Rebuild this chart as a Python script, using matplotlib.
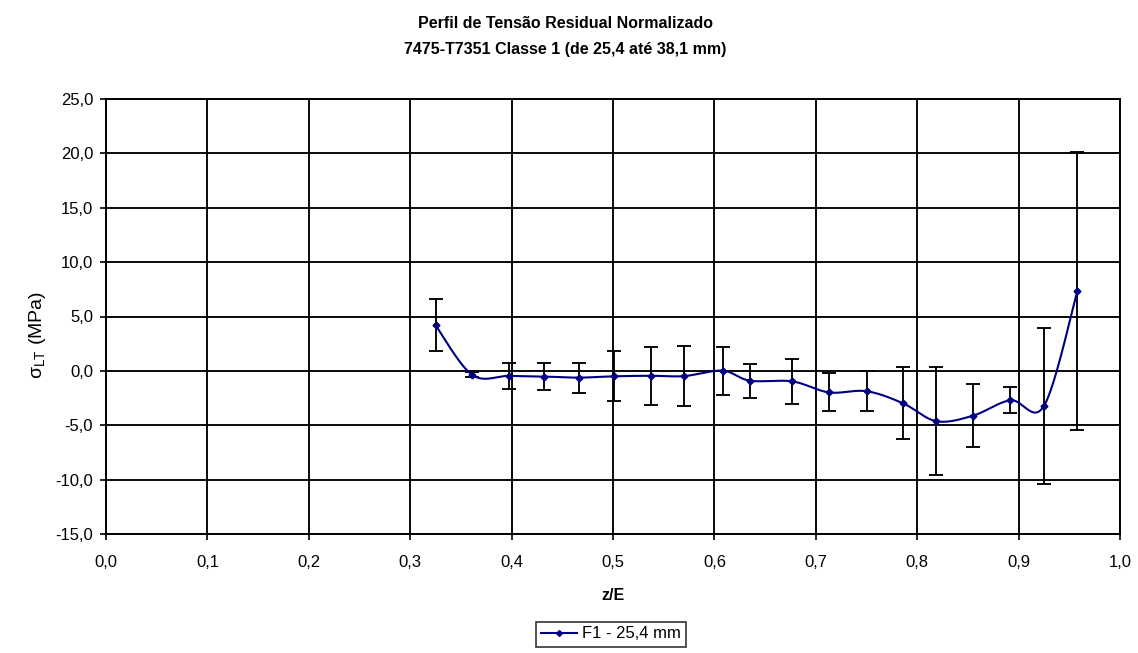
import numpy as np
import matplotlib
matplotlib.use("Agg")
import matplotlib.pyplot as plt
from matplotlib.ticker import FuncFormatter, MultipleLocator
from matplotlib.lines import Line2D

plt.rcParams['font.family'] = ['Liberation Sans', 'DejaVu Sans']

# ---- data ----
z = [0.325, 0.361, 0.397, 0.432, 0.466, 0.501, 0.537, 0.570, 0.608, 0.635,
     0.677, 0.713, 0.750, 0.786, 0.819, 0.855, 0.892, 0.925, 0.958]
sigma = [4.20, -0.36, -0.46, -0.52, -0.62, -0.50, -0.45, -0.48, 0.02, -0.90,
         -0.97, -1.98, -1.87, -2.98, -4.63, -4.12, -2.70, -3.23, 7.35]
err = [2.38, 0.22, 1.18, 1.20, 1.38, 2.30, 2.68, 2.76, 2.20, 1.56,
       2.03, 1.75, 1.84, 3.31, 4.95, 2.88, 1.20, 7.20, 12.80]
series_label = "F1 - 25,4 mm"
title_lines = ["Perfil de Tensão Residual Normalizado",
               "7475-T7351 Classe 1 (de 25,4 até 38,1 mm)"]
xlabel = "z/E"
ylabel = r"$\mathregular{\sigma_{LT}}$ (MPa)"

W, H = 1138, 653
fig = plt.figure(figsize=(W / 100, H / 100), dpi=100)
ax = fig.add_axes([106 / W, 1 - 534 / H, (1120 - 106) / W, (534 - 99) / H])

xlim = (0.0, 1.0)
ylim = (-15.0, 25.0)
ax.set_xlim(*xlim)
ax.set_ylim(*ylim)

navy = '#000080'

# smooth curve (Excel-like Bezier smoothing) computed in pixel-scaled space
def smooth(xs, ys, sx, sy, n=30):
    P = np.column_stack([np.asarray(xs) * sx, np.asarray(ys) * sy])
    out = [P[0]]
    for i in range(len(P) - 1):
        p0 = P[i - 1] if i > 0 else P[i]
        p1 = P[i]
        p2 = P[i + 1]
        p3 = P[i + 2] if i + 2 < len(P) else P[i + 1]
        c1 = p1 + (p2 - p0) / 6.0
        c2 = p2 - (p3 - p1) / 6.0
        t = np.linspace(0, 1, n)[1:, None]
        b = ((1 - t) ** 3) * p1 + 3 * ((1 - t) ** 2) * t * c1 + 3 * (1 - t) * t ** 2 * c2 + t ** 3 * p2
        out.extend(b)
    out = np.array(out)
    return out[:, 0] / sx, out[:, 1] / sy

sx = 1014 / (xlim[1] - xlim[0])
sy = 435 / (ylim[1] - ylim[0])
cx, cy = smooth(z, sigma, sx, sy)

ax.errorbar(z, sigma, yerr=err, fmt='none', ecolor='black', elinewidth=1.35,
            capsize=5, capthick=1.35, zorder=3)
ax.plot(cx, cy, color=navy, lw=1.5, zorder=4)
ax.plot(z, sigma, linestyle='none', marker='D', markersize=3.5, color=navy, zorder=5)

ax.xaxis.set_major_locator(MultipleLocator(0.1))
ax.yaxis.set_major_locator(MultipleLocator(5))
fmt = FuncFormatter(lambda v, p: f"{v:.1f}".replace('.', ','))
ax.xaxis.set_major_formatter(fmt)
ax.yaxis.set_major_formatter(fmt)
ax.grid(True, color='black', lw=1.35)
ax.set_axisbelow(True)
for s in ax.spines.values():
    s.set_linewidth(1.4)
    s.set_color('black')
ax.tick_params(direction='out', length=4.3, width=1.2, labelsize=12, colors='black')
ax.tick_params(axis='x', pad=11)
ax.tick_params(axis='y', pad=5)

fig.text(0.497, 1 - 28 / H, title_lines[0], ha='center', va='baseline',
         fontsize=11.5, fontweight='bold')
fig.text(0.497, 1 - 54 / H, title_lines[1], ha='center', va='baseline',
         fontsize=11.5, fontweight='bold')
fig.text(613 / W, 1 - 595 / H, xlabel, ha='center', va='center',
         fontsize=11.5, fontweight='bold')
fig.text(37 / W, 1 - 335 / H, ylabel, ha='center', va='center', rotation=90,
         fontsize=14)

handle = Line2D([], [], color=navy, lw=1.5, marker='D', markersize=3)
leg = fig.legend([handle], [series_label], loc='center',
                 bbox_to_anchor=(611 / W, 1 - 634 / H), fontsize=12,
                 frameon=True, fancybox=False, edgecolor='black',
                 borderpad=0.3, handlelength=2.2, handletextpad=0.3,
                 borderaxespad=0)
leg.get_frame().set_linewidth(1.2)

fig.savefig("out.png", dpi=100)
